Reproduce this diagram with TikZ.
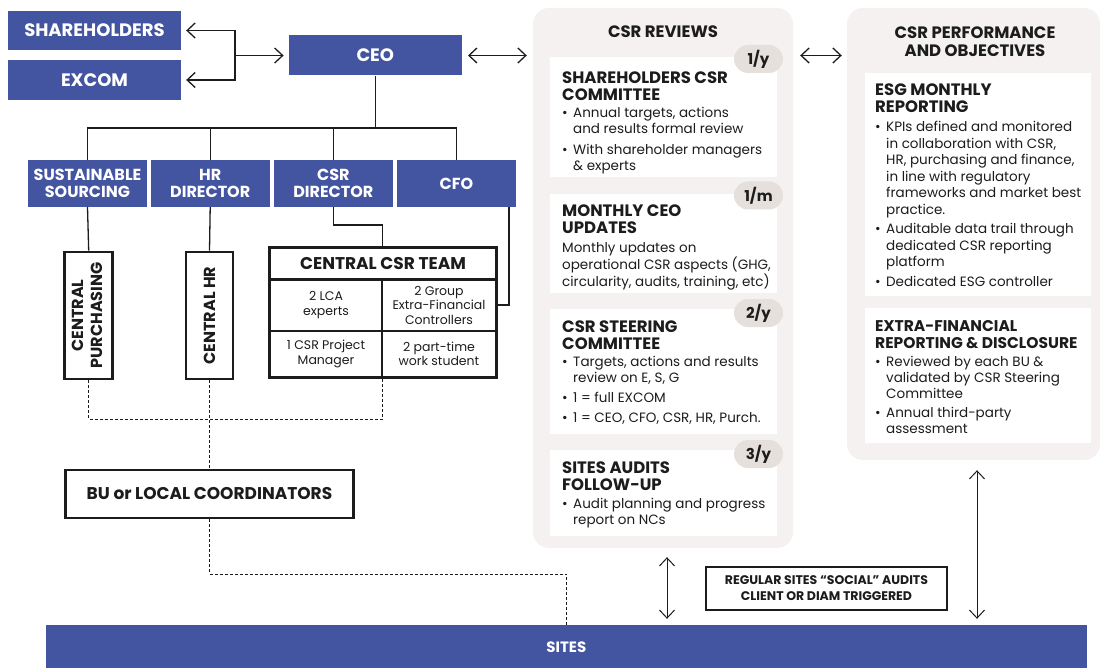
\documentclass[tikz,border=0pt]{standalone}
\usepackage{fontspec}
\usepackage{graphicx}
\setmainfont{Poppins}
\usetikzlibrary{arrows.meta,calc}

\definecolor{corpblue}{HTML}{4354A1}
\definecolor{panelbg}{HTML}{F4F1F0}
\definecolor{badgebg}{HTML}{E6E0DD}
\definecolor{ink}{HTML}{1C1C1C}

% bullet marker and hanging indent for list lines
\newcommand{\blt}{\makebox[11pt][l]{\textbullet}}
\newcommand{\bcont}{\hspace*{11pt}}

\tikzset{
  bluebox/.style={fill=corpblue, text=white, inner sep=0pt, align=center,
    font=\bfseries\fontsize{18}{20}\selectfont},
  dirbox/.style={bluebox, minimum width=119pt, minimum height=47pt,
    font=\bfseries\fontsize{16}{17}\selectfont},
  outline/.style={draw=ink, line width=2.6pt, fill=white, text=ink, inner sep=0pt,
    align=center},
  cell/.style={draw=ink, line width=1.2pt, text=ink, inner sep=0pt, align=center,
    font=\fontsize{12.5}{14.5}\selectfont},
  link/.style={draw=ink, line width=1.3pt},
  dlink/.style={draw=ink, line width=1pt, dash pattern=on 3pt off 2pt},
  panel/.style={fill=panelbg, rounded corners=16pt, inner sep=0pt},
  card/.style={fill=white, inner sep=0pt},
  badge/.style={fill=badgebg, rounded corners=14pt, minimum width=49pt,
    minimum height=28pt, inner sep=0pt, text=ink,
    font=\bfseries\fontsize{15}{17}\selectfont},
  ptitle/.style={text=ink, inner sep=0pt, align=center,
    font=\bfseries\fontsize{16.5}{18}\selectfont},
  ctitle/.style={anchor=north west, inner sep=0pt, align=left, text=ink,
    font=\bfseries\fontsize{16.5}{17}\selectfont},
  cbody/.style={anchor=north west, inner sep=0pt, align=left, text=ink,
    font=\fontsize{13.5}{16}\selectfont},
  >={Straight Barb[length=8pt,width=15pt]},
}

\begin{document}
\begin{tikzpicture}[x=1pt,y=-1pt]
\useasboundingbox (0,0) rectangle (1102,668);

% ---------- governance column ----------
\node[bluebox, minimum width=173pt, minimum height=39pt] (sh) at (94.5,30.5) {SHAREHOLDERS};
\node[bluebox, minimum width=173pt, minimum height=40pt] (ex) at (94.5,80) {EXCOM};
\node[bluebox, minimum width=173pt, minimum height=40pt] (ceo) at (375.3,55.5) {CEO};

\coordinate (brk) at (235,55.5);
\draw[link,<->] ([xshift=5pt]sh.east) -| (brk) |- ([xshift=5pt]ex.east);
\draw[link,->] (brk) -- ([xshift=-5pt]ceo.west);

% directors
\node[dirbox] (sust) at (87.5,183.5) {SUSTAINABLE\\SOURCING};
\node[dirbox] (hrd)  at (210.2,183.5) {HR\\DIRECTOR};
\node[dirbox] (csrd) at (333.3,183.5) {CSR\\DIRECTOR};
\node[dirbox] (cfo)  at (456.4,183.5) {CFO};

\coordinate (bus) at (0,128);
\draw[link] (ceo.south) -- (ceo.south |- bus);
\draw[link] (sust.north) -- (sust.north |- bus) -- (cfo.north |- bus) -- (cfo.north);
\draw[link] (hrd.north) -- (hrd.north |- bus);
\draw[link] (csrd.north) -- (csrd.north |- bus);

% central functions
\node[outline, minimum width=48pt, minimum height=127pt] (cpur) at (88.7,315.5)
  {\rotatebox{90}{\bfseries\fontsize{16}{19}\selectfont
   \begin{tabular}{@{}c@{}}CENTRAL\\PURCHASING\end{tabular}}};
\node[outline, minimum width=47pt, minimum height=127pt] (chr) at (209.5,315.5)
  {\rotatebox{90}{\bfseries\fontsize{16}{19}\selectfont CENTRAL HR}};

% central CSR team table
\node[cell, minimum width=226pt, minimum height=31pt,
  font=\bfseries\fontsize{17}{19}\selectfont] (team) at (383,263.5) {CENTRAL CSR TEAM};
\node[cell, minimum width=112pt, minimum height=52pt] (c11) at (326,305) {2 LCA\\experts};
\node[cell, minimum width=114pt, minimum height=52pt] (c12) at (439,305) {2 Group\\Extra-Financial\\Controllers};
\node[cell, minimum width=112pt, minimum height=46pt] (c21) at (326,354) {1 CSR Project\\Manager};
\node[cell, minimum width=114pt, minimum height=46pt] (c22) at (439,354) {2 part-time\\work student};
\draw[ink, line width=2.4pt] (team.south west) -- (team.south east);
\draw[ink, line width=2.6pt] (team.north west) rectangle (c22.south east);

\draw[link] (sust.south) -- (cpur.north);
\draw[link] (hrd.south) -- (chr.north);
\coordinate (jog) at (0,225);
\draw[link] (csrd.south) -- (csrd.south |- jog) -| (team.north -| c11.east);
\draw[link] ([xshift=-7pt]cfo.south east) |- (c12.east);

% local level
\node[outline, minimum width=288pt, minimum height=48pt,
  font=\bfseries\fontsize{17}{19}\selectfont] (bu) at (209.5,494) {BU or LOCAL COORDINATORS};

\node[bluebox, minimum width=1041pt, minimum height=44pt,
  font=\bfseries\fontsize{15}{17}\selectfont] (sites) at (566.4,647) {SITES};

\coordinate (dl1) at (0,419);
\coordinate (dl2) at (0,574);
\draw[dlink] (cpur.south) |- (c21.south east |- dl1) -- (c21.south east);
\draw[dlink] (chr.south) -- (bu.north);
\draw[dlink] (bu.south) |- (sites.north |- dl2) -- (sites.north);

% ---------- CSR reviews ----------
\node[panel, minimum width=260pt, minimum height=540pt] (rev) at (663,278) {};
\node[ptitle] (revt) at (663,32) {CSR REVIEWS};

\node[card, minimum width=227pt, minimum height=120pt] (r1) at (663.5,117) {};
\node[card, minimum width=227pt, minimum height=99pt]  (r2) at (663.5,243.5) {};
\node[card, minimum width=227pt, minimum height=125pt] (r3) at (663.5,371.5) {};
\node[card, minimum width=227pt, minimum height=86pt]  (r4) at (663.5,493) {};

\node[badge] (b1) at (758.5,59) {1/y};
\node[badge] (b2) at (758.5,195.5) {1/m};
\node[badge] (b3) at (758.5,313) {2/y};
\node[badge] (b4) at (758.5,454) {3/y};

\node[ctitle] (r1t) at (562,72) {SHAREHOLDERS CSR\\COMMITTEE};
\node[cbody] (r1b) at (562,107) {\blt Annual targets, actions\\\bcont and results formal review\\[5pt]
  \blt With shareholder managers\\\bcont \& experts};

\node[ctitle] (r2t) at (562,205) {MONTHLY CEO\\UPDATES};
\node[cbody] (r2b) at (562,242) {Monthly updates on\\operational CSR aspects (GHG,\\circularity, audits, training, etc)};

\node[ctitle] (r3t) at (562,321) {CSR STEERING\\COMMITTEE};
\node[cbody] (r3b) at (562,356) {\blt Targets, actions and results\\\bcont review on E, S, G\\[4pt]
  \blt 1 = full EXCOM\\[4pt]\blt 1 = CEO, CFO, CSR, HR, Purch.};

\node[ctitle] (r4t) at (562,462) {SITES AUDITS\\FOLLOW-UP};
\node[cbody] (r4b) at (562,498) {\blt Audit planning and progress\\\bcont report on NCs};

% ---------- CSR performance ----------
\node[panel, minimum width=253pt, minimum height=452pt] (perf) at (973.5,234) {};
\node[ptitle] (perft) at (975,42) {CSR PERFORMANCE\\AND OBJECTIVES};

\node[card, minimum width=226pt, minimum height=223pt] (pa) at (978,184.5) {};
\node[card, minimum width=226pt, minimum height=135pt] (pb) at (978,375.5) {};

\node[ctitle] (pat) at (875,84) {ESG MONTHLY\\REPORTING};
\node[cbody, font=\fontsize{13.5}{16.5}\selectfont] (pab) at (875,121) {\blt KPIs defined and monitored\\\bcont in collaboration with CSR,\\
  \bcont HR, purchasing and finance,\\\bcont in line with regulatory\\\bcont frameworks and market best\\
  \bcont practice.\\[3pt]\blt Auditable data trail through\\\bcont dedicated CSR reporting\\\bcont platform\\[3pt]
  \blt Dedicated ESG controller};

\node[ctitle, font=\bfseries\fontsize{15.5}{17}\selectfont] (pbt) at (875,320)
  {EXTRA-FINANCIAL\\REPORTING \& DISCLOSURE};
\node[cbody] (pbb) at (875,356) {\blt Reviewed by each BU \&\\\bcont validated by CSR Steering\\\bcont Committee\\[3pt]
  \blt Annual third-party\\\bcont assessment};

% ---------- cross links ----------
\draw[link,<->] ($(ceo.east)+(6,0)$) -- ($(ceo.east -| rev.west)+(-6,0)$);
\draw[link,<->] ($(rev.east |- ceo.east)+(7,0)$) -- ($(perf.west |- ceo.east)+(-5,0)$);

\draw[ink, line width=1pt,<->] ($(rev.south)+(4,9)$) -- ($(rev.south |- sites.north)+(4,-6)$);
\draw[ink, line width=1pt,<->] ($(perf.south)+(3.5,10)$) -- ($(perf.south |- sites.north)+(3.5,-6)$);

\node[outline, line width=2pt, minimum width=241pt, minimum height=43pt,
  font=\bfseries\fontsize{12.5}{16}\selectfont] (soc) at (826.5,588.5)
  {REGULAR SITES “SOCIAL” AUDITS\\CLIENT OR DIAM TRIGGERED};
\end{tikzpicture}
\end{document}
